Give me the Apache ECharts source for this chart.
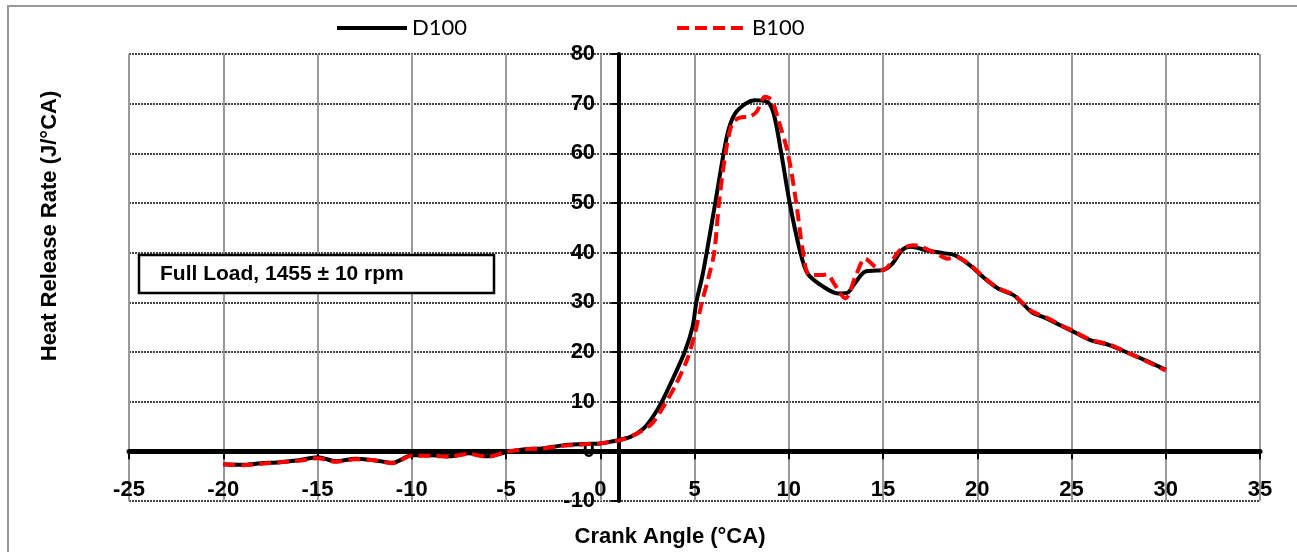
<!DOCTYPE html>
<html>
<head>
<meta charset="utf-8">
<title>Heat Release Rate</title>
<script src="https://cdn.jsdelivr.net/npm/echarts@6/dist/echarts.min.js"></script>
<style>
  html, body { margin: 0; padding: 0; background: #fff; }
  #chart { width: 1297px; height: 552px; }
</style>
</head>
<body>
<div id="chart"></div>
<script>
// crank angle (°CA) and heat release rate (J/°CA)
const dieselAngles = [
  -20, -19, -18, -17, -16, -15, -14, -13, -12, -11, -10, -9, -8, -7, -6, -5, -4, -3, -2, -1, 0,
  0.5, 1.6, 2.3, 2.8, 3.3, 3.9, 4.5, 4.9, 5.1, 5.4, 5.65, 6.1, 6.55, 6.8, 7.15, 7.75, 8.2, 8.85,
  9.2, 9.6, 10.05, 10.6, 11.0, 11.85, 12.6, 13.1, 13.5, 14.05, 14.65, 15.0, 15.5, 16.0, 16.45,
  17.3, 18.2, 18.8, 19.6, 20.4, 21.1, 21.9, 22.4, 22.9, 23.7, 24.4, 25.1, 26.0, 27.0, 27.9, 29.1, 30
];
const dieselRates = [
  -2.6, -2.7, -2.4, -2.2, -1.8, -1.2, -2.0, -1.5, -1.8, -2.3, -0.8, -0.8, -1.0, -0.4, -1.0, -0.2, 0.4, 0.6, 1.2, 1.45, 1.6,
  1.9, 2.9, 4.6, 7.0, 10.2, 15.0, 20.2, 25.1, 30.1, 35.0, 40.1, 50.0, 60.1, 64.7, 68.0, 70.1, 70.7, 70.4,
  68.0, 60.1, 50.0, 40.3, 35.8, 33.1, 31.8, 31.9, 33.8, 36.2, 36.4, 36.5, 37.8, 40.5, 41.2,
  40.5, 39.9, 39.5, 37.5, 34.8, 32.8, 31.5, 29.8, 28.0, 26.7, 25.4, 24.1, 22.4, 21.4, 20.0, 18.0, 16.4
];
const biodieselAngles = [
  -20, -19, -18, -17, -16, -15, -14, -13, -12, -11, -10, -9, -8, -7, -6, -5, -4, -3, -2, -1, 0,
  1.05, 1.95, 2.75, 3.35, 3.95, 4.6, 5.0, 5.4, 5.75, 6.05, 6.3, 6.65, 7.0, 7.4, 7.95, 8.3, 8.75,
  9.1, 9.45, 9.95, 10.4, 10.75, 11.1, 11.75, 12.05, 12.4, 13.0, 13.6, 14.05, 14.6, 15.0, 15.9,
  16.6, 17.85, 18.4, 18.9, 19.6, 20.4, 21.1, 21.9, 22.4, 22.9, 23.7, 24.4, 25.1, 26.0, 27.0, 27.9, 29.1, 30
];
const biodieselRates = [
  -2.6, -2.8, -2.5, -2.2, -1.9, -1.4, -2.1, -1.6, -1.8, -2.4, -0.9, -0.9, -1.1, -0.5, -1.1, -0.1, 0.4, 0.6, 1.1, 1.4, 1.6,
  2.25, 3.6, 5.6, 9.0, 13.0, 18.4, 23.4, 30.1, 35.1, 40.1, 50.0, 60.1, 66.0, 67.2, 67.4, 68.4, 71.4,
  70.7, 66.7, 60.1, 50.0, 40.3, 35.5, 35.5, 35.6, 33.8, 30.8, 35.8, 38.8, 37.1, 36.5, 40.5,
  41.5, 39.8, 38.8, 39.1, 37.6, 34.9, 32.9, 31.6, 29.9, 28.2, 26.9, 25.5, 24.2, 22.5, 21.5, 20.0, 17.9, 16.3
];
const seriesNames = ['D100', 'B100'];
const xMin = -25, xMax = 35, xStep = 5;
const yMin = -10, yMax = 80, yStep = 10;
const yAxisCrossAt = 1;
const noteText = 'Full Load, 1455 \u00b1 10 rpm';

const grid = { left: 129, right: 37, top: 54, bottom: 51 };
const plotWidth = 1297 - grid.left - grid.right;
const yAxisX = grid.left + (yAxisCrossAt - xMin) / (xMax - xMin) * plotWidth;
const tickFont = { color: '#000', fontFamily: 'Liberation Sans, Arial', fontWeight: 'bold', fontSize: 22 };
const titleFont = 'bold 22px "Liberation Sans", Arial';

const pairs = (xs, ys) => xs.map((x, i) => [x, ys[i]]);

const chart = echarts.init(document.getElementById('chart'), null, { renderer: 'canvas' });
chart.setOption({
  animation: false,
  backgroundColor: '#fff',
  grid: grid,
  legend: {
    left: 335,
    top: 17,
    padding: 0,
    itemWidth: 70,
    itemHeight: 4,
    itemGap: 208,
    lineStyle: { width: 4 },
    itemStyle: { color: 'rgba(0,0,0,0)', borderWidth: 0 },
    textStyle: { color: '#000', fontFamily: 'Lato', fontSize: 22 },
    data: seriesNames
  },
  xAxis: [
    {
      type: 'value',
      min: xMin,
      max: xMax,
      interval: xStep,
      position: 'bottom',
      axisLine: { show: false, onZero: false },
      axisTick: { show: false },
      axisLabel: Object.assign({ inside: true, margin: 0 }, tickFont),
      splitLine: { show: true, lineStyle: { color: '#999', width: 2 } }
    },
    {
      // thick line at y = 0 with the tick marks below it
      type: 'value',
      min: xMin,
      max: xMax,
      interval: xStep,
      position: 'bottom',
      axisLine: { show: true, onZero: true, onZeroAxisIndex: 0, lineStyle: { color: '#000', width: 5 } },
      axisTick: { show: true, length: 8, lineStyle: { color: '#000', width: 2 } },
      axisLabel: { show: false },
      splitLine: { show: false }
    }
  ],
  yAxis: {
    type: 'value',
    min: yMin,
    max: yMax,
    interval: yStep,
    position: 'left',
    offset: -(yAxisX - grid.left),
    axisLine: { show: true, onZero: false, lineStyle: { color: '#000', width: 4 } },
    axisTick: { show: true, length: 8, lineStyle: { color: '#000', width: 2 } },
    axisLabel: Object.assign({ margin: 24 }, tickFont),
    splitLine: { show: true, lineStyle: { color: '#444', width: 2, type: [2, 1] } }
  },
  series: [
    {
      name: seriesNames[0],
      type: 'line',
      xAxisIndex: 0,
      smooth: 0.3,
      symbol: 'none',
      showSymbol: false,
      data: pairs(dieselAngles, dieselRates),
      lineStyle: { color: '#000', width: 4 },
      itemStyle: { color: '#000' },
      z: 3
    },
    {
      name: seriesNames[1],
      type: 'line',
      xAxisIndex: 0,
      smooth: 0.3,
      symbol: 'none',
      showSymbol: false,
      data: pairs(biodieselAngles, biodieselRates),
      lineStyle: { color: '#ff0000', width: 4, type: [12, 6] },
      itemStyle: { color: '#ff0000' },
      z: 4
    }
  ],
  graphic: [
    {
      type: 'rect',
      shape: { x: 8, y: 6, width: 1300, height: 560 },
      style: { fill: null, stroke: '#999', lineWidth: 2 },
      silent: true
    },
    {
      type: 'rect',
      shape: { x: 139, y: 255, width: 355, height: 38 },
      style: { fill: '#fff', stroke: '#000', lineWidth: 2.5 },
      z: 10
    },
    {
      type: 'text',
      x: 160,
      y: 274,
      style: { text: noteText, font: 'bold 21px "Liberation Sans", Arial', fill: '#000', verticalAlign: 'middle' },
      z: 11
    },
    {
      type: 'text',
      x: 50,
      y: 226,
      rotation: Math.PI / 2,
      style: { text: 'Heat Release Rate (J/\u00b0CA)', font: titleFont, fill: '#000', align: 'center', verticalAlign: 'middle' }
    },
    {
      type: 'text',
      x: 670,
      y: 537,
      style: { text: 'Crank Angle (\u00b0CA)', font: titleFont, fill: '#000', align: 'center', verticalAlign: 'middle' }
    }
  ]
});

window.addEventListener('resize', () => chart.resize());
</script>
</body>
</html>
